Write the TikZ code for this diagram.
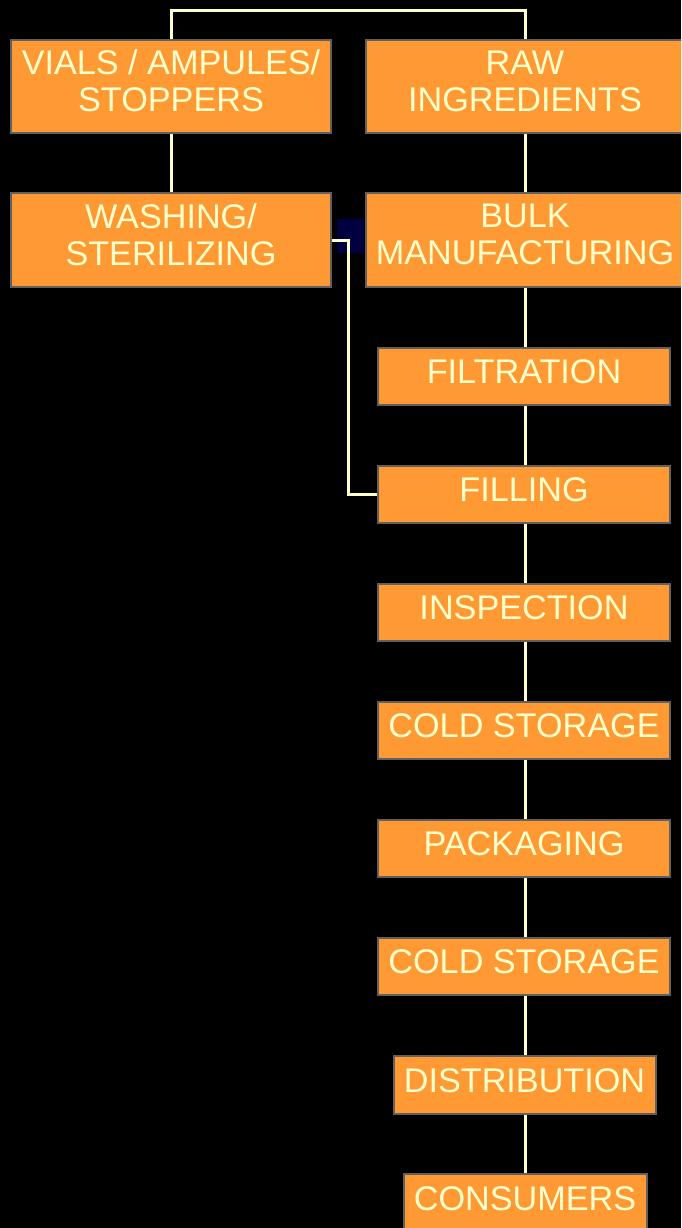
\documentclass[tikz,border=0pt]{standalone}
\usepackage{fontspec}
\setmainfont{Liberation Sans}
\usepackage{tikz}
\usetikzlibrary{calc}
\definecolor{StageOrange}{RGB}{255,153,51}
\definecolor{StageEdge}{RGB}{96,96,96}
\definecolor{PaleText}{RGB}{255,255,204}
\definecolor{DeepNavy}{RGB}{0,0,64}

\begin{document}
\begin{tikzpicture}[x=1pt, y=-1pt,
    font=\fontsize{34.2}{37}\selectfont,
    every node/.style={align=center},
    stage/.style={draw=StageEdge, line width=2pt, fill=StageOrange, text=PaleText,
      inner sep=0pt, execute at end node=\strut},
    link/.style={draw=PaleText, line width=3pt}]
      \useasboundingbox (0,0) rectangle (681,1228);
      \clip (0,0) rectangle (681,1228);
      \fill[black] (0,0) rectangle (681,1228);
      \fill[DeepNavy] (337,219) rectangle (364,253);

      % two supply columns
      \node[stage,minimum width=320pt,minimum height=93pt] (vials) at (171,86.5) {VIALS / AMPULES/\\STOPPERS};
      \node[stage,minimum width=318pt,minimum height=93pt] (raw) at (525,86.5) {RAW\\INGREDIENTS};
      \node[stage,minimum width=320pt,minimum height=94pt] (washing) at (171,240) {WASHING/\\STERILIZING};
      \node[stage,minimum width=318pt,minimum height=94pt] (bulk) at (525,240) {BULK\\MANUFACTURING};

      % main line
      \node[stage,minimum width=292pt,minimum height=57pt] (filtration) at (524,376.5) {FILTRATION};
      \node[stage,minimum width=292pt,minimum height=57pt] (filling) at (524,494.5) {FILLING};
      \node[stage,minimum width=292pt,minimum height=57pt] (inspection) at (524,612.5) {INSPECTION};
      \node[stage,minimum width=292pt,minimum height=57pt] (cold1) at (524,730.5) {COLD STORAGE};
      \node[stage,minimum width=292pt,minimum height=57pt] (packaging) at (524,848.5) {PACKAGING};
      \node[stage,minimum width=292pt,minimum height=57pt] (cold2) at (524,966.5) {COLD STORAGE};
      \node[stage,minimum width=262pt,minimum height=58pt] (distribution) at (524.5,1085) {DISTRIBUTION};
      \node[stage,minimum width=243pt,minimum height=58pt] (consumers) at (525,1203) {CONSUMERS};

      \coordinate (top) at (348,11);
      \coordinate (feed) at (348,494.5);

      \draw[link] (vials.north) |- (top) -| (raw.north);
      \draw[link] (vials) -- (washing);
      \draw[link] (raw) -- (bulk);
      \draw[link] (washing.east) -| (feed) -- (filling.west);
      \foreach \a/\b in {bulk/filtration, filtration/filling, filling/inspection,
          inspection/cold1, cold1/packaging, packaging/cold2, cold2/distribution,
          distribution/consumers}
        \draw[link] (\a.south -| raw) -- (\b.north -| raw);
    \end{tikzpicture}
\end{document}
